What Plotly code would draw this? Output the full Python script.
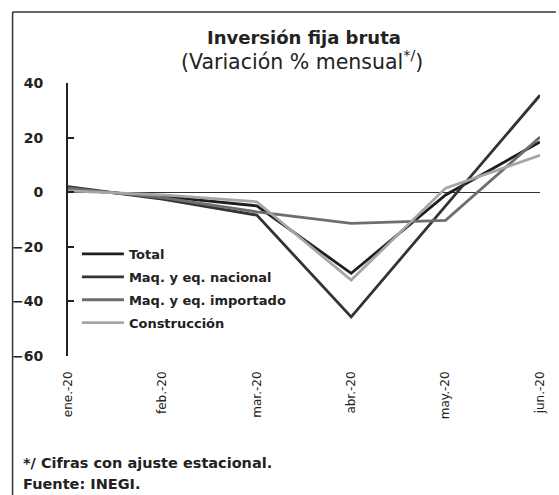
import plotly.graph_objects as go

categories = ["ene.-20", "feb.-20", "mar.-20", "abr.-20", "may.-20", "jun.-20"]
total = [1.0, -1.5, -5.0, -29.7, -1.0, 18.4]
maq_nacional = [2.0, -2.5, -8.4, -45.7, -5.0, 35.5]
maq_importado = [1.5, -2.0, -7.2, -11.4, -10.3, 20.2]
construccion = [0.5, -1.0, -3.5, -32.2, 1.5, 13.5]
y_ticks = [40, 20, 0, -20, -40, -60]

FONT = "DejaVu Sans"
W, H = 559, 495
L, R, T, B = 67, 15, 83, 139

fig = go.Figure()
series = [
    ("Total", total, "#1e1e1e", 2.8),
    ("Maq. y eq. nacional", maq_nacional, "#2f362f", 2.8),
    ("Maq. y eq. importado", maq_importado, "#6e6e6e", 2.8),
    ("Construcción", construccion, "#a3a8a7", 2.8),
]
for i, (name, vals, col, w) in enumerate(series):
    fig.add_trace(go.Scatter(x=categories, y=vals, name=name, mode="lines",
                             legendgroup=f"g{i}",
                             line=dict(color=col, width=w)))

pw = W - L - R
ph = H - T - B
def px_x(p):
    return (p - L) / pw
def px_y(p):
    return (H - B - p) / ph

fig.update_layout(
    width=W, height=H,
    margin=dict(l=L, r=R, t=T, b=B),
    paper_bgcolor="white", plot_bgcolor="white",
    font=dict(family=FONT, color="#222"),
    showlegend=True,
    legend=dict(x=px_x(76), y=px_y(239), xanchor="left", yanchor="top",
                bgcolor="rgba(0,0,0,0)", font=dict(size=13, color="#222", weight=700),
                tracegroupgap=3, itemwidth=42),
    xaxis=dict(range=[0, 5], showgrid=False, zeroline=False, showline=False,
               ticks="", tickangle=-90, tickfont=dict(size=12, color="#222"),
               ticklabelstandoff=12),
    yaxis=dict(range=[-60, 40], tickvals=y_ticks, showgrid=False,
               zeroline=True, zerolinecolor="#333", zerolinewidth=1.2,
               showline=True, linecolor="#222", linewidth=2,
               ticks="inside", ticklen=6, tickwidth=2, tickcolor="#222",
               tickfont=dict(size=14, color="#222", weight=700),
               ticklabelstandoff=20),
    shapes=[
        dict(type="line", xref="paper", yref="paper", x0=px_x(11), x1=px_x(11),
             y0=px_y(12), y1=px_y(500), line=dict(color="#333", width=1.5)),
        dict(type="line", xref="paper", yref="paper", x0=px_x(11), x1=px_x(560),
             y0=px_y(12), y1=px_y(12), line=dict(color="#333", width=1.5)),
    ],
    annotations=[
        dict(text="<b>Inversión fija bruta</b>", xref="paper", yref="paper",
             x=px_x(305), y=px_y(38), xanchor="center", yanchor="middle",
             showarrow=False, font=dict(size=18, color="#222")),
        dict(text="(Variación % mensual<sup>*/</sup>)", xref="paper", yref="paper",
             x=px_x(303), y=px_y(60), xanchor="center", yanchor="middle",
             showarrow=False, font=dict(size=20.5, color="#222")),
        dict(text="*/ Cifras con ajuste estacional.", xref="paper", yref="paper",
             x=px_x(20), y=px_y(463), xanchor="left", yanchor="middle",
             showarrow=False, font=dict(size=14.5, color="#222", weight=700)),
        dict(text="Fuente: INEGI.", xref="paper", yref="paper",
             x=px_x(20), y=px_y(484), xanchor="left", yanchor="middle",
             showarrow=False, font=dict(size=14.5, color="#222", weight=700)),
    ],
)

fig.write_html("out.html", config={"displayModeBar": False},
               post_script="document.body.style.margin='0';")
